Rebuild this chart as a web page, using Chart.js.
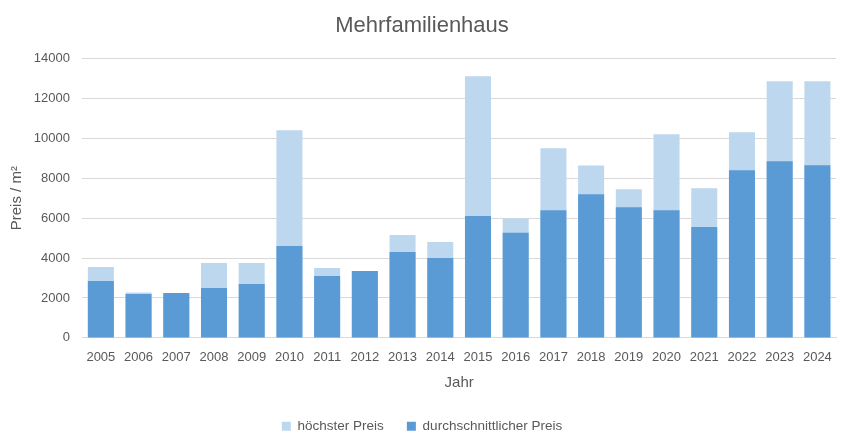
<!DOCTYPE html>
<html><head><meta charset="utf-8">
<script src="https://cdn.jsdelivr.net/npm/chart.js@4/dist/chart.umd.min.js"></script>
<style>html,body{margin:0;padding:0;background:#fff}#wrap{width:844px;height:439px}</style>
</head><body><div id="wrap"><canvas id="c" width="844" height="439"></canvas></div>
<script>
const categories = ["2005","2006","2007","2008","2009","2010","2011","2012","2013","2014","2015","2016","2017","2018","2019","2020","2021","2022","2023","2024"];
const hoechsterPreis = [3550,2280,2250,3750,3750,10400,3500,3350,5150,4800,13100,5980,9500,8630,7450,10200,7500,10300,12850,12850];
const durchschnittPreis = [2850,2200,2250,2500,2700,4600,3100,3350,4300,4000,6100,5270,6400,7200,6550,6400,5550,8400,8850,8650];
const yTicks = [0,2000,4000,6000,8000,10000,12000,14000];

const FONT = "'Liberation Sans Narrow','Arial Narrow','Liberation Sans',sans-serif";
const TXT = '#595959';
new Chart(document.getElementById('c'), {
  type: 'bar',
  data: {
    labels: categories,
    datasets: [
      {label: 'durchschnittlicher Preis', data: durchschnittPreis, backgroundColor: '#5B9BD5', barPercentage: 0.69, categoryPercentage: 1},
      {label: 'höchster Preis', data: hoechsterPreis, backgroundColor: '#BDD7EE', barPercentage: 0.69, categoryPercentage: 1}
    ]
  },
  options: {
    responsive: false,
    animation: false,
    layout: {padding: {left: 6, right: 6, top: 11, bottom: -4}},
    plugins: {
      title: {display: true, text: 'Mehrfamilienhaus', color: TXT, font: {family: FONT, size: 22, weight: 'normal'}, padding: {top: 2, bottom: 19}},
      legend: {position: 'bottom', reverse: true, labels: {color: TXT, font: {family: FONT, size: 13.5}, boxWidth: 9, boxHeight: 9, padding: 23}},
      tooltip: {enabled: false}
    },
    scales: {
      x: {
        stacked: true,
        grid: {display: false, drawTicks: false},
        border: {color: '#D9D9D9'},
        ticks: {color: TXT, font: {family: FONT, size: 13}, padding: 12, maxRotation: 0, autoSkip: false},
        title: {display: true, text: 'Jahr', color: TXT, font: {family: FONT, size: 15}, padding: {top: -4, bottom: 5}}
      },
      y: {
        stacked: false,
        min: 0, max: 14000,
        afterBuildTicks: (s) => { s.ticks = yTicks.map(v => ({value: v})); },
        afterFit: (s) => { s.width = 76; },
        grid: {color: '#D9D9D9', drawTicks: false},
        border: {display: false},
        ticks: {color: TXT, font: {family: FONT, size: 13}, padding: 12, callback: (v) => String(v)},
        title: {display: true, text: 'Preis / m²', color: TXT, font: {family: FONT, size: 15}, padding: {top: 2, bottom: 4}}
      }
    }
  }
});
</script></body></html>
